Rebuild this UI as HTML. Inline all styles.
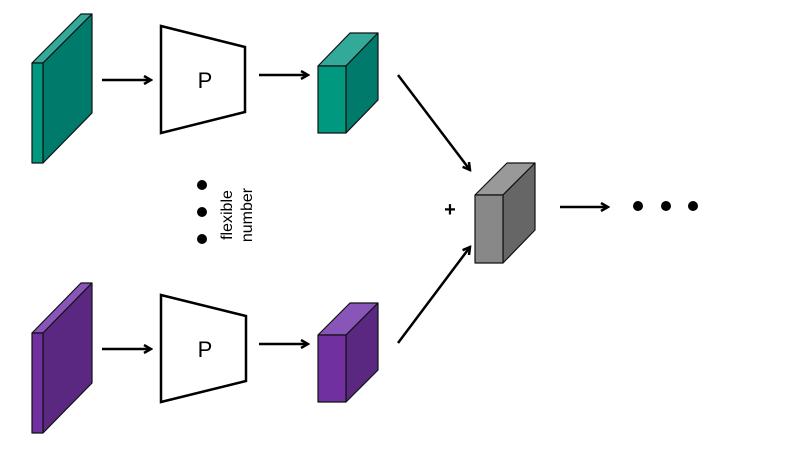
<!DOCTYPE html>
<html><head><style>html,body{margin:0;padding:0;background:#fff}svg{display:block}</style></head>
<body>
<svg width="796" height="461" viewBox="0 0 796 461" xmlns="http://www.w3.org/2000/svg">
<defs><marker id="a" markerWidth="10" markerHeight="10" refX="8" refY="5" orient="auto" markerUnits="userSpaceOnUse"><path d="M1,1 L8,5 L1,9" fill="none" stroke="#000" stroke-width="2.5"/></marker></defs>
<g stroke="#111" stroke-width="1.2" stroke-linejoin="round">
<polygon points="32,63 43,63 92,14 81,14" fill="#33aa99"/>
<polygon points="43,63 92,14 92,113 43,163" fill="#007a6a"/>
<rect x="32" y="63" width="11" height="100" fill="#009980"/>
<polygon points="318,66 346,66 378,33 350,33" fill="#33aa99"/>
<polygon points="346,66 378,33 378,100 346,133" fill="#007a6a"/>
<rect x="318" y="66" width="28" height="67" fill="#009980"/>
<polygon points="32,333 43,333 92,283 81,283" fill="#8a55b8"/>
<polygon points="43,333 92,283 92,383 43,433" fill="#5a2880"/>
<rect x="32" y="333" width="11" height="100" fill="#7030a0"/>
<polygon points="318,335 346,335 378,303 350,303" fill="#8a55b8"/>
<polygon points="346,335 378,303 378,370 346,402" fill="#5a2880"/>
<rect x="318" y="335" width="28" height="67" fill="#7030a0"/>
<polygon points="475,195 503,195 535,163 507,163" fill="#999"/>
<polygon points="503,195 535,163 535,230 503,263" fill="#666"/>
<rect x="475" y="195" width="28" height="68" fill="#888"/>
</g>
<g fill="#fff" stroke="#000" stroke-width="2.5" stroke-linejoin="miter">
<polygon points="161,26 245,47 245,112 161,133"/>
<polygon points="161,295 246,316 246,381 161,402"/>
</g>
<g font-family="Liberation Sans, sans-serif" font-size="22" text-anchor="middle">
<text x="205" y="88">P</text>
<text x="205" y="357">P</text>
</g>
<g stroke="#000" stroke-width="2.5" fill="none" marker-end="url(#a)">
<line x1="102" y1="80" x2="151" y2="80"/>
<line x1="259" y1="75" x2="308" y2="75"/>
<line x1="102" y1="349" x2="151" y2="349"/>
<line x1="259" y1="344" x2="308" y2="344"/>
<line x1="398" y1="75" x2="470" y2="170"/>
<line x1="398" y1="343" x2="470" y2="247"/>
<line x1="560" y1="207" x2="608" y2="207"/>
</g>
<g fill="#000">
<circle cx="202" cy="185" r="5"/><circle cx="202" cy="212" r="5"/><circle cx="202" cy="239" r="5"/>
<circle cx="638" cy="206" r="5"/><circle cx="666" cy="206" r="5"/><circle cx="693" cy="206" r="5"/>
</g>
<text transform="translate(232,215) rotate(-90)" font-family="Liberation Sans, sans-serif" font-size="16" text-anchor="middle">flexible</text>
<text transform="translate(252,215) rotate(-90)" font-family="Liberation Sans, sans-serif" font-size="16" text-anchor="middle">number</text>
<text x="450" y="216" font-family="Liberation Sans, sans-serif" font-size="20" font-weight="bold" text-anchor="middle">+</text>
</svg>
</body></html>
